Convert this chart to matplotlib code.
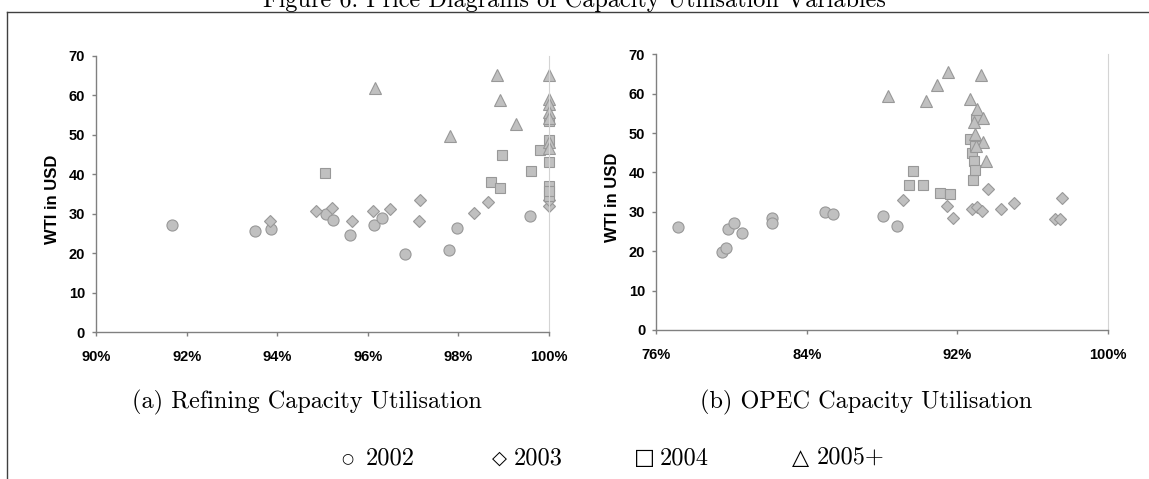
"""
Scatter of WTI price against capacity utilisation (refining and OPEC), one marker per year group.
Saves out.png.
"""

import matplotlib

matplotlib.use("Agg")
import matplotlib.pyplot as plt
from matplotlib.lines import Line2D
from matplotlib.ticker import PercentFormatter

# ---- data: (utilisation %, WTI USD) ----
years = ["2002", "2003", "2004", "2005+"]

ref_2002_x = [91.68, 93.50, 93.86, 95.08, 95.23, 95.61, 96.14, 96.31, 96.82, 97.80, 97.97, 99.57]
ref_2002_y = [27.1, 25.7, 26.2, 29.9, 28.5, 24.7, 27.1, 29.0, 19.8, 20.8, 26.4, 29.5]
ref_2003_x = [93.83, 94.86, 95.20, 95.66, 96.11, 96.48, 97.15, 97.13, 98.34, 98.66, 100.0, 100.0]
ref_2003_y = [28.2, 30.8, 31.5, 28.2, 30.7, 31.2, 33.6, 28.2, 30.3, 33.0, 32.1, 33.5]
ref_2004_x = [95.05, 98.72, 98.92, 98.97, 99.61, 99.81, 100.0, 100.0, 100.0, 100.0, 100.0, 100.0]
ref_2004_y = [40.4, 38.1, 36.6, 45.0, 40.8, 46.1, 48.7, 43.2, 37.1, 34.5, 53.6, 35.8]
ref_2005_x = [96.15, 97.81, 98.85, 98.92, 99.26, 100.0, 100.0, 100.0, 100.0, 100.0, 100.0, 100.0]
ref_2005_y = [62.0, 49.8, 65.3, 58.9, 52.8, 65.1, 59.1, 57.8, 55.7, 54.2, 48.1, 46.8]

opec_2002_x = [77.18, 79.49, 79.69, 79.81, 80.12, 80.58, 82.13, 82.13, 84.97, 85.41, 88.04, 88.79]
opec_2002_y = [26.2, 19.9, 20.8, 25.6, 27.2, 24.7, 28.5, 27.1, 29.9, 29.5, 28.9, 26.4]
opec_2003_x = [89.14, 91.46, 91.77, 92.79, 93.05, 93.32, 93.62, 94.36, 95.03, 97.21, 97.47, 97.56]
opec_2003_y = [33.0, 31.6, 28.4, 30.6, 31.1, 30.2, 35.9, 30.7, 32.3, 28.2, 28.2, 33.6]
opec_2004_x = [89.43, 89.67, 90.18, 91.08, 91.63, 92.69, 92.79, 92.87, 92.91, 92.95, 92.99, 92.97]
opec_2004_y = [36.7, 40.4, 36.7, 34.9, 34.4, 48.4, 44.9, 38.1, 43.0, 40.6, 53.5, 46.6]
opec_2005_x = [88.35, 90.36, 90.91, 91.52, 93.28, 92.67, 93.05, 93.38, 92.91, 92.97, 93.38, 92.99, 93.56]
opec_2005_y = [59.3, 58.2, 62.1, 65.4, 64.8, 58.7, 56.0, 53.9, 52.9, 49.8, 47.8, 46.6, 43.0]

ref_xticks = [90, 92, 94, 96, 98, 100]
opec_xticks = [76, 84, 92, 100]
price_yticks = [0, 10, 20, 30, 40, 50, 60, 70]

FILL = "#c0c0c0"
EDGE = "#989898"
MARKERS = {"2002": ("o", 8.0), "2003": ("D", 6.4), "2004": ("s", 7.6), "2005+": ("^", 8.6)}
TICK_FONT = {"family": "Liberation Sans", "weight": "bold", "size": 10.5}
SERIF = ["cmr10", "DejaVu Serif"]


def draw_panel(ax, series, xticks):
    for year, (xs, ys) in zip(years, series):
        marker, ms = MARKERS[year]
        ax.plot(xs, ys, linestyle="none", marker=marker, markersize=ms,
                markerfacecolor=FILL, markeredgecolor=EDGE, markeredgewidth=0.8, clip_on=False)
    ax.set_xlim(xticks[0], xticks[-1])
    ax.set_ylim(price_yticks[0], price_yticks[-1])
    ax.set_xticks(xticks)
    ax.set_yticks(price_yticks)
    ax.xaxis.set_major_formatter(PercentFormatter(decimals=0))
    ax.spines["top"].set_visible(False)
    ax.spines["right"].set_color("#d4d4d4")
    ax.spines["right"].set_linewidth(0.8)
    for side in ("left", "bottom"):
        ax.spines[side].set_color("#808080")
        ax.spines[side].set_linewidth(1.0)
    ax.tick_params(axis="x", direction="out", length=3, width=1, color="#808080", pad=10)
    ax.tick_params(axis="y", direction="out", length=3, width=1, color="#808080", pad=5)
    for lab in ax.get_xticklabels() + ax.get_yticklabels():
        lab.set_fontproperties(TICK_FONT)
    ax.set_ylabel("WTI in USD", fontfamily="Liberation Sans", fontweight="bold", fontsize=12, va="center")
    ax.yaxis.set_label_coords(-0.097, 0.48)


fig = plt.figure(figsize=(11.49, 4.79), dpi=100)
ax_a = fig.add_axes([0.0836, 0.3063, 0.3943, 0.5768])
ax_b = fig.add_axes([0.5712, 0.3111, 0.3927, 0.5756])

draw_panel(ax_a, [(ref_2002_x, ref_2002_y), (ref_2003_x, ref_2003_y),
                  (ref_2004_x, ref_2004_y), (ref_2005_x, ref_2005_y)], ref_xticks)
draw_panel(ax_b, [(opec_2002_x, opec_2002_y), (opec_2003_x, opec_2003_y),
                  (opec_2004_x, opec_2004_y), (opec_2005_x, opec_2005_y)], opec_xticks)

# frame lines of the figure box (top and left only, the rest is cropped)
fig.add_artist(Line2D([6.5 / 1149, 6.5 / 1149], [0, 1 - 11.5 / 479], color="#404040", lw=1.0))
fig.add_artist(Line2D([6.5 / 1149, 1], [1 - 11.5 / 479, 1 - 11.5 / 479], color="#404040", lw=1.0))

fig.text(0.5, 1 - 7.5 / 479, "Figure 6: Price Diagrams of Capacity Utilisation Variables",
         ha="center", va="baseline", family=SERIF, fontsize=17.5)
fig.text(307 / 1149, 1 - 402 / 479, "(a) Refining Capacity Utilisation",
         ha="center", va="center", family=SERIF, fontsize=17.5)
fig.text(866 / 1149, 1 - 402 / 479, "(b) OPEC Capacity Utilisation",
         ha="center", va="center", family=SERIF, fontsize=17.5)

# caption key: symbol and year placed separately
legend_symbols = ["\u25cb", "\u25c7", "\u25a1", "\u25b3"]
legend_sym_size = [10, 14, 16, 16]
legend_sym_x = [347, 499, 644, 800]
legend_year_x = [366, 514, 660, 817]
for sym, size, sx, year, yx in zip(legend_symbols, legend_sym_size, legend_sym_x, years, legend_year_x):
    fig.text(sx / 1149, 1 - 458 / 479, sym, ha="center", va="center", family="DejaVu Sans", fontsize=size)
    fig.text(yx / 1149, 1 - 458 / 479, year, ha="left", va="center", family=SERIF, fontsize=17.5)

fig.savefig("out.png", dpi=100)
